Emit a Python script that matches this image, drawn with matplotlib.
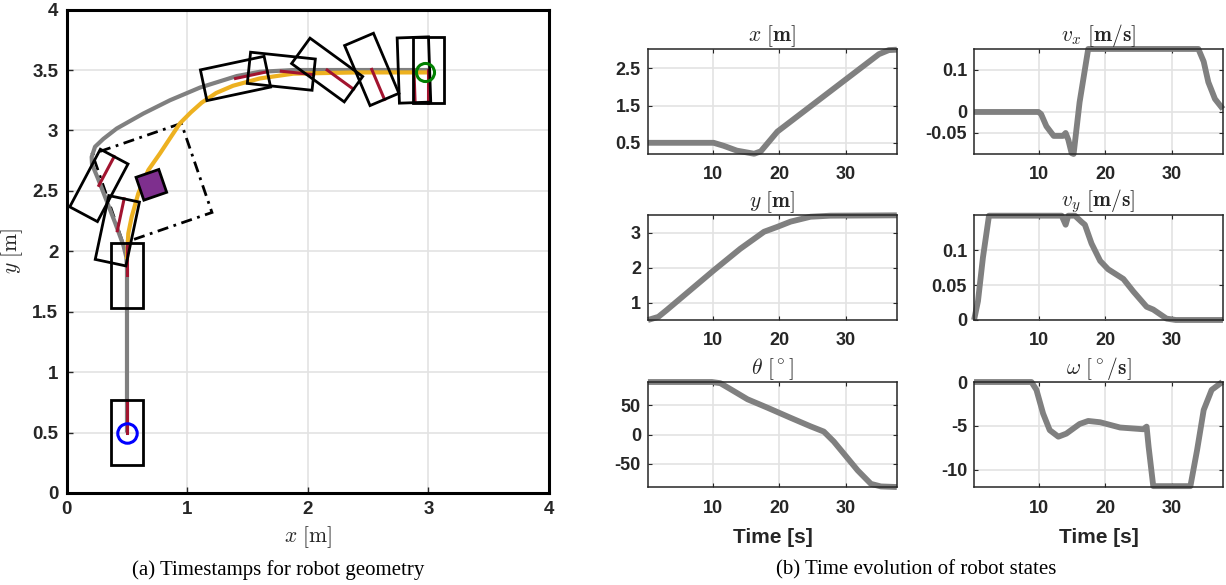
import numpy as np
import matplotlib
matplotlib.use("Agg")
import matplotlib.pyplot as plt
from matplotlib.patches import Polygon

plt.rcParams['font.family'] = ['Liberation Sans', 'DejaVu Sans']
plt.rcParams['mathtext.fontset'] = 'cm'

# --- left panel: path data (x, y in m) ---
path_x = [0.5, 0.5, 0.495, 0.47, 0.40, 0.33, 0.26, 0.21, 0.207, 0.235, 0.304, 0.415, 0.636, 0.857, 1.106, 1.41, 1.60, 1.88, 2.4, 3.0]
path_y = [0.5, 1.85, 1.95, 2.05, 2.24, 2.42, 2.60, 2.72, 2.78, 2.865, 2.93, 3.016, 3.14, 3.25, 3.355, 3.45, 3.485, 3.50, 3.50, 3.50]

ref_x = [0.5, 0.511, 0.539, 0.594, 0.677, 0.774, 0.86, 0.94, 1.03, 1.12, 1.24, 1.38, 1.60, 1.88, 2.4, 3.0]
ref_y = [1.95, 2.148, 2.285, 2.479, 2.672, 2.81, 2.94, 3.06, 3.15, 3.23, 3.31, 3.37, 3.43, 3.47, 3.48, 3.48]

# robot footprints: centre and heading (deg)
robot_x = [0.5, 0.5, 0.42, 0.267, 1.40, 1.78, 2.16, 2.53, 2.88, 3.0]
robot_y = [0.5, 1.80, 2.17, 2.545, 3.43, 3.49, 3.50, 3.505, 3.50, 3.50]
robot_th = [90, 90, 78, 62, 12, -6, -36, -67, -88, -90]
robot_len = 0.54
robot_wid = 0.26

obst_x, obst_y, obst_th = 0.702, 2.55, 19
obst_side = 0.2
safe_x, safe_y, safe_side = 0.709, 2.563, 0.78

start_xy = (0.5, 0.5)
goal_xy = (2.97, 3.485)

# --- right panels: time series ---
t_x = [0.2, 10.1, 11.6, 13.6, 16.2, 17.2, 19.7, 35.0, 36.5, 37.7]
x_val = [0.5, 0.5, 0.42, 0.29, 0.206, 0.27, 0.80, 2.88, 2.99, 3.0]

t_vx = [0.2, 9.9, 10.3, 11.1, 12.2, 13.6, 14.0, 14.4, 14.9, 15.2, 16.1, 17.4, 34.0, 34.8, 35.5, 36.5, 37.7]
vx_val = [0, 0, -0.005, -0.034, -0.057, -0.057, -0.05, -0.066, -0.098, -0.1, 0.023, 0.15, 0.15, 0.12, 0.071, 0.031, 0.007]

t_y = [0.2, 1.77, 3.0, 10.1, 14.1, 17.7, 19.7, 21.7, 24.7, 27.7, 37.7]
y_val = [0.5, 0.59, 0.78, 1.92, 2.54, 3.03, 3.17, 3.32, 3.46, 3.49, 3.5]

t_vy = [0.2, 0.79, 1.54, 2.45, 13.4, 14.0, 14.4, 15.4, 16.4, 16.9, 17.9, 19.2, 20.4, 22.7, 24.2, 26.2, 27.2, 29.2, 30.6, 37.7]
vy_val = [0, 0.027, 0.09, 0.15, 0.15, 0.137, 0.15, 0.15, 0.141, 0.137, 0.11, 0.085, 0.073, 0.059, 0.041, 0.019, 0.015, 0.002, 0, 0]

t_th = [0.2, 9.85, 11.1, 12.6, 15.2, 18.2, 21.7, 24.7, 26.7, 28.2, 31.8, 33.8, 35.3, 37.7]
th_val = [90, 90, 88, 78, 60.4, 46, 28.6, 14, 5, -12, -61.5, -84.6, -89, -90]

t_w = [0.2, 8.85, 9.6, 10.6, 11.6, 12.9, 14.1, 16.1, 17.4, 19.2, 22.2, 25.7, 26.2, 26.5, 27.2, 32.8, 33.8, 34.8, 36.0, 37.6]
w_val = [0, 0, -0.9, -3.6, -5.5, -6.25, -5.9, -4.8, -4.45, -4.6, -5.2, -5.4, -5.1, -7.4, -11.9, -11.9, -7.8, -3.2, -0.9, 0]

GRAY = '#808080'
YELLOW = '#EDB120'
RED = '#A2142F'
PURPLE = '#7E2F8E'
TXT = '#262626'


def box_corners(cx, cy, th, L, W):
    c, s = np.cos(np.radians(th)), np.sin(np.radians(th))
    loc = np.array([[L / 2, W / 2], [-L / 2, W / 2], [-L / 2, -W / 2], [L / 2, -W / 2]])
    rot = np.array([[c, -s], [s, c]])
    return loc @ rot.T + [cx, cy]


fig = plt.figure(figsize=(12.26, 5.85), dpi=100)

# ---------------- left panel ----------------
ax = fig.add_axes([0.0544, 0.1573, 0.3934, 0.8263])
sq = box_corners(safe_x, safe_y, obst_th, safe_side, safe_side)
ax.add_patch(Polygon(sq, closed=True, fill=False, ec='k', lw=2, ls=(0, (4, 2, 1, 2)), zorder=2))
ax.plot(path_x, path_y, color=GRAY, lw=3, zorder=3, solid_capstyle='butt')
ax.plot(ref_x, ref_y, color=YELLOW, lw=3, zorder=3)
for cx, cy, th in zip(robot_x, robot_y, robot_th):
    hx = cx + robot_len / 2 * np.cos(np.radians(th))
    hy = cy + robot_len / 2 * np.sin(np.radians(th))
    ax.plot([cx, hx], [cy, hy], color=RED, lw=2.2, zorder=4)
    ax.add_patch(Polygon(box_corners(cx, cy, th, robot_len, robot_wid), closed=True,
                         fill=False, ec='k', lw=2, zorder=5))
ax.add_patch(Polygon(box_corners(obst_x, obst_y, obst_th, obst_side, obst_side), closed=True,
                     fc=PURPLE, ec='k', lw=2, zorder=5))
ax.plot(*start_xy, 'o', mfc='none', mec='#0000FF', ms=14, mew=2.2, zorder=6)
ax.plot(*goal_xy, 'o', mfc='none', mec='#008000', ms=13, mew=2.2, zorder=6)

ax.set_xlim(0, 4)
ax.set_ylim(0, 4)
ax.set_xticks([0, 1, 2, 3, 4])
ax.set_yticks(np.arange(0, 4.01, 0.5))
ax.set_yticklabels(['0', '0.5', '1', '1.5', '2', '2.5', '3', '3.5', '4'])
ax.grid(True, color='#E3E3E3', lw=1.2)
ax.set_axisbelow(True)
for s in ax.spines.values():
    s.set_linewidth(2.2)
ax.tick_params(direction='in', length=4, width=1, labelsize=13.5, colors=TXT, pad=6)
for lab in ax.get_xticklabels() + ax.get_yticklabels():
    lab.set_fontweight('bold')
ax.set_xlabel(r'$x\ [\mathrm{m}]$', fontsize=15.5, color=TXT, labelpad=4)
ax.set_ylabel(r'$y\ [\mathrm{m}]$', fontsize=15.5, color=TXT, labelpad=5)

# ---------------- right panels ----------------
lefts = [0.5285, 0.7945]
bottoms = [0.7368, 0.453, 0.1675]
series = [
    (t_x, x_val, r'$x\ [\mathbf{m}]$', (0.2, 3.02), [0.5, 1.5, 2.5], ['0.5', '1.5', '2.5']),
    (t_vx, vx_val, r'$v_x\ [\mathbf{m/s}]$', (-0.1, 0.15), [-0.05, 0, 0.1], ['-0.05', '0', '0.1']),
    (t_y, y_val, r'$y\ [\mathbf{m}]$', (0.5, 3.51), [1, 2, 3], ['1', '2', '3']),
    (t_vy, vy_val, r'$v_y\ [\mathbf{m/s}]$', (0, 0.151), [0, 0.05, 0.1], ['0', '0.05', '0.1']),
    (t_th, th_val, r'$\theta\ [^\circ]$', (-90, 90), [-50, 0, 50], ['-50', '0', '50']),
    (t_w, w_val, r'$\omega\ [^\circ/\mathbf{s}]$', (-12, 0), [-10, -5, 0], ['-10', '-5', '0']),
]
for i, (tt, vv, title, ylim, yt, ytl) in enumerate(series):
    r, c = divmod(i, 2)
    a = fig.add_axes([lefts[c], bottoms[r], 0.203, 0.1795])
    a.plot(tt, vv, color=GRAY, lw=4.2, solid_capstyle='butt', clip_on=False)
    a.set_xlim(0.2, 37.7)
    a.set_ylim(*ylim)
    a.set_xticks([10, 20, 30])
    a.set_yticks(yt)
    a.set_yticklabels(ytl)
    a.grid(True, color='#E3E3E3', lw=1.2)
    a.set_axisbelow(True)
    for s in a.spines.values():
        s.set_linewidth(1.1)
        s.set_color(TXT)
    a.tick_params(direction='in', length=3, width=0.8, labelsize=13, colors=TXT, pad=9,
                  top=True, right=True)
    a.tick_params(axis='y', pad=5)
    for lab in a.get_xticklabels() + a.get_yticklabels():
        lab.set_fontweight('bold')
    a.set_title(title, fontsize=15.5, color=TXT, pad=6)
    if r == 2:
        a.set_xlabel('Time [s]', fontsize=15, fontweight='bold', color=TXT, labelpad=8)

fig.text(278 / 1226, 1 - 570 / 585, '(a) Timestamps for robot geometry', ha='center', va='center',
         fontsize=15, family='Liberation Serif', color='k')
fig.text(916 / 1226, 1 - 570 / 585, '(b) Time evolution of robot states', ha='center', va='center',
         fontsize=15, family='Liberation Serif', color='k')

fig.savefig('out.png', dpi=100)
